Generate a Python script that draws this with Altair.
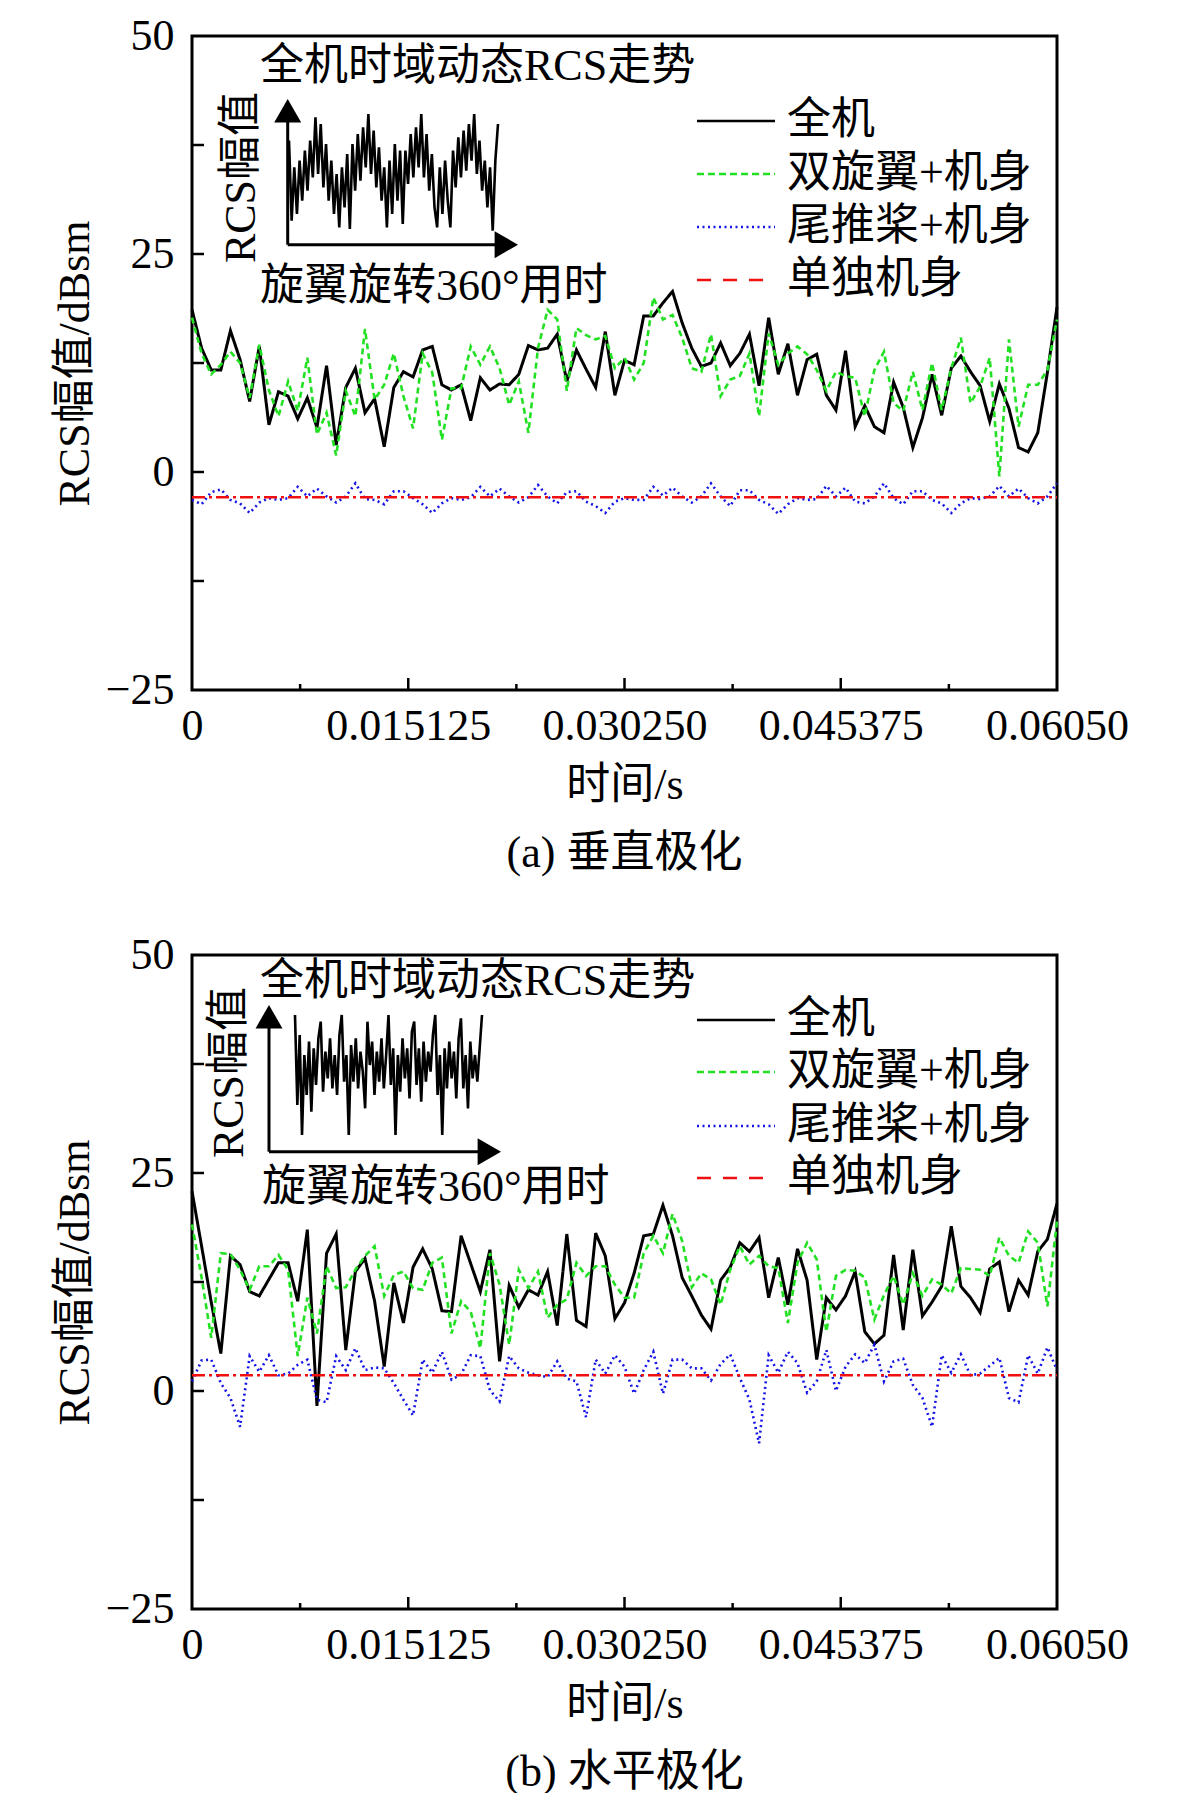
import altair as alt
import pandas as pd

# ---------------- data ----------------
SERIES = ["全机", "双旋翼+机身", "尾推桨+机身", "单独机身"]
T_END = 0.0605
N_PTS = 91
X_TICKS = [0, 0.015125, 0.03025, 0.045375, 0.0605]
X_TICK_LABELS = ["0", "0.015125", "0.030250", "0.045375", "0.06050"]
X_MINOR = [0.0075625, 0.0226875, 0.0378125, 0.0529375]
Y_TICKS = [-25, 0, 25, 50]
Y_MINOR = [-12.5, 12.5, 37.5]

# (a) vertical polarisation
full_v = [18.6, 14.2, 11.7, 11.7, 16.2, 12.9, 8.1, 14.4, 5.4, 9.2,
          8.7, 6.1, 8.5, 5.1, 12.2, 3.1, 9.7, 11.9, 6.8, 8.4,
          2.9, 9.7, 11.5, 10.9, 14.0, 14.4, 10.0, 9.4, 10.0, 5.9,
          10.8, 9.4, 10.1, 10.0, 11.2, 14.5, 14.0, 14.2, 15.8, 10.4,
          14.0, 11.8, 9.7, 16.1, 8.8, 12.8,
          12.3, 17.9, 17.9, 19.4, 20.7, 17.1, 14.2, 12.1, 12.5, 14.8,
          12.2, 13.6, 15.8, 9.9, 17.7, 11.2, 14.7, 8.8, 12.9, 13.5,
          8.8, 7.1, 13.9, 5.2, 7.6, 5.2, 4.5, 10.3, 7.4, 2.8,
          6.2, 11.2, 6.5, 11.9, 13.3, 11.5, 9.9, 5.8, 10.1, 7.3,
          2.8, 2.3, 4.5, 11.4, 18.9]
rotor_v = [17.7, 13.6, 11.2, 12.3, 13.8, 12.5, 8.5, 14.6, 9.4, 6.4,
           10.4, 7.0, 13.1, 4.3, 6.8, 1.9, 9.3, 6.4, 16.4, 8.3,
           10.0, 13.6, 8.7, 5.0, 13.6, 11.4, 3.7, 9.6, 9.6, 14.4,
           12.3, 14.4, 11.9, 7.7, 10.4, 4.5, 14.2, 18.6, 17.5, 9.3,
           16.5, 15.7, 15.2, 15.6, 11.9, 13.1,
           10.6, 12.5, 20.0, 17.5, 18.0, 15.4, 11.9, 11.5, 15.8, 8.7,
           10.6, 11.0, 13.6, 6.4, 15.9, 12.3, 13.6, 14.4, 13.5, 11.7,
           9.3, 11.5, 11.0, 10.8, 6.4, 11.7, 13.8, 7.9, 7.0, 11.5,
           7.1, 12.5, 7.1, 11.9, 15.4, 7.9, 9.8, 13.1, -0.5, 15.2,
           5.2, 10.0, 10.0, 11.7, 17.5]
prop_v = [-3.2, -3.7, -2.3, -2.0, -3.2, -3.6, -4.7, -3.5, -3.0, -3.2,
          -3.0, -1.7, -2.8, -1.9, -2.8, -3.5, -2.8, -1.3, -3.1, -3.2,
          -3.7, -2.2, -2.2, -3.0, -3.7, -4.7, -3.6, -3.0, -3.2, -2.9,
          -1.7, -2.8, -1.9, -2.8, -3.5, -2.9, -1.5, -2.8, -3.6, -2.3,
          -2.2, -3.4, -3.9, -4.7, -3.4, -3.0,
          -3.2, -3.2, -1.7, -2.7, -1.8, -2.8, -3.5, -2.8, -1.3, -2.8,
          -3.9, -2.1, -2.1, -3.2, -3.7, -4.8, -3.7, -3.0, -3.2, -3.1,
          -1.6, -2.8, -1.8, -3.4, -3.6, -2.8, -1.3, -3.0, -3.7, -2.2,
          -2.2, -3.2, -3.6, -4.7, -3.6, -3.0, -3.1, -2.8, -1.6, -2.8,
          -1.9, -3.0, -3.6, -2.8, -1.3]
body_v = [-2.9] * N_PTS

# (b) horizontal polarisation
full_h = [22.9, 16.6, 10.2, 4.3, 15.5, 14.5, 11.4, 10.9, 12.8, 14.7,
          14.7, 10.3, 18.5, -1.7, 15.8, 18.0, 4.7, 13.7, 15.2, 10.3,
          2.8, 12.4, 7.8, 14.2, 16.3, 14.0, 9.2, 9.1, 17.8, 14.6,
          11.4, 16.2, 3.4, 12.1, 9.6, 11.6, 11.0, 13.7, 7.5, 18.0,
          8.1, 7.4, 18.1, 15.5, 8.3, 10.1,
          13.5, 17.8, 18.0, 21.3, 17.8, 13.0, 10.9, 8.7, 7.1, 12.7,
          14.2, 17.0, 16.0, 17.6, 10.7, 15.3, 9.9, 16.3, 12.7, 3.6,
          10.7, 9.3, 10.9, 13.7, 6.8, 5.4, 6.4, 15.6, 7.0, 16.2,
          8.6, 10.2, 12.0, 18.9, 12.0, 10.7, 9.0, 14.0, 14.8, 9.1,
          12.7, 11.0, 16.0, 17.4, 21.5]
rotor_h = [19.1, 13.0, 6.1, 15.8, 15.7, 13.9, 11.6, 14.3, 14.3, 15.6,
           13.9, 4.0, 10.7, 6.6, 14.3, 11.8, 11.9, 13.9, 15.5, 16.6,
           10.9, 13.3, 13.7, 11.8, 11.6, 14.7, 15.3, 6.6, 10.3, 9.1,
           4.9, 15.8, 12.2, 5.3, 13.9, 11.8, 13.7, 8.4, 9.9, 10.5,
           14.7, 13.2, 14.3, 14.3, 12.2, 10.7,
           10.7, 15.8, 17.8, 15.8, 20.3, 17.2, 11.9, 13.5, 12.8, 9.9,
           13.9, 16.6, 14.5, 15.5, 14.3, 14.1, 7.8, 14.7, 17.0, 15.1,
           6.8, 13.2, 13.9, 13.8, 13.0, 8.2, 11.0, 13.2, 9.9, 13.5,
           10.9, 12.8, 12.2, 11.2, 14.1, 14.0, 13.9, 13.2, 17.6, 15.5,
           14.7, 18.3, 17.0, 9.7, 19.5]
prop_h = [1.1, 3.5, 3.6, 0.9, -0.8, -4.1, 4.0, 2.2, 4.1, 1.8,
          2.0, 3.0, 3.6, -1.0, -1.3, 4.0, 2.4, 4.9, 2.4, 2.7,
          2.6, 0.9, -1.0, -2.8, 3.6, 2.1, 4.5, 1.3, 1.9, 4.1,
          4.0, 0.1, -1.2, 4.0, 2.6, 2.1, 1.8, 1.6, 3.4, 1.4,
          1.1, -3.0, 3.6, 2.0, 4.1, 2.8,
          -0.3, 2.4, 4.5, -0.3, 3.6, 3.6, 2.6, 2.6, 1.2, 3.1,
          4.2, 1.5, -1.0, -6.0, 4.1, 2.1, 4.5, 3.2, -0.2, 1.1,
          4.7, 0.0, 2.8, 4.2, 3.2, 5.3, 1.1, 3.4, 3.7, 0.7,
          -0.8, -4.1, 4.1, 2.1, 4.2, 1.8, 2.0, 2.9, 3.8, -0.8,
          -1.3, 4.1, 2.0, 5.0, 2.4]
body_h = [1.8] * N_PTS

# inset traces (arbitrary amplitude units)
inset_v = [280, 40, 200, 60, 220, 100, 250, 130, 280, 170,
           350, 180, 330, 140, 270, 100, 220, 60, 180, 20,
           200, 80, 240, 15, 270, 130, 300, 160, 320, 200,
           360, 180, 310, 140, 260, 100, 200, 20, 220, 60,
           270, 100, 250, 30, 250, 150, 300, 170, 320, 200,
           360, 170, 300, 130, 240, 80, 20, 200, 60, 220,
           100, 20, 250, 140, 290, 170, 310, 190, 330, 220,
           360, 180, 280, 130, 220, 80, 200, 10, 220, 330]
inset_h = [420, 150, 360, 60, 300, 180, 340, 130, 320, 210,
           350, 400, 190, 310, 230, 350, 200, 300, 180, 360,
           420, 220, 300, 60, 330, 220, 350, 200, 310, 250,
           140, 400, 270, 340, 180, 310, 220, 350, 200, 300,
           420, 210, 320, 60, 300, 190, 350, 230, 320, 170,
           370, 400, 210, 320, 160, 340, 220, 310, 250, 360,
           420, 180, 300, 60, 320, 200, 340, 230, 310, 170,
           350, 410, 200, 300, 140, 340, 230, 300, 220, 320, 420]

INSET_TITLE = "全机时域动态RCS走势"
INSET_YLABEL = "RCS幅值"
INSET_XLABEL = "旋翼旋转360°用时"

# ---------------- styles ----------------
FONT = "'Liberation Serif', 'Noto Sans CJK SC', serif"
FS = 44
PW, PH = 865, 654
COLORS = ["#000000", "#22e022", "#1414e6", "#f01010"]
DASHES = [[1, 0], [6, 4], [2, 3.5], [13, 4, 3, 4]]
LEG_DASHES = [[1, 0], [7, 4], [2, 3.5], [14, 12]]
WIDTHS = [3, 2.6, 2.6, 2.6]

time = [i * T_END / (N_PTS - 1) for i in range(N_PTS)]

label_expr = "[" + ",".join("'%s'" % s for s in X_TICK_LABELS) + "][round(datum.value/0.015125)]"

X_ENC = alt.X("t:Q", scale=alt.Scale(domain=[0, T_END], nice=False, zero=False),
              axis=alt.Axis(values=X_TICKS, labelExpr=label_expr, title="时间/s",
                            labelOverlap=False, labelFlush=False))
Y_ENC = alt.Y("v:Q", scale=alt.Scale(domain=[-25, 50], nice=False, zero=False),
              axis=alt.Axis(values=Y_TICKS, title="RCS幅值/dBsm", labelOverlap=False, labelFlush=False))

ONE = pd.DataFrame({"d": [0]})


def txt(s, x, y, align="left", angle=0):
    m = alt.Chart(ONE).mark_text(text=s, font=FONT, fontSize=FS, align=align,
                                 baseline="middle", color="black",
                                 **({"angle": angle} if angle else {}))
    return m.encode(x=alt.value(x), y=alt.value(y))


def hrule(x1, x2, y, color="black", dash=None, width=3):
    kw = {"strokeDash": dash} if dash else {}
    return alt.Chart(ONE).mark_rule(color=color, strokeWidth=width, **kw).encode(
        x=alt.value(x1), x2=alt.value(x2), y=alt.value(y))


def vrule(x, y1, y2, width=3):
    return alt.Chart(ONE).mark_rule(color="black", strokeWidth=width).encode(
        x=alt.value(x), y=alt.value(y1), y2=alt.value(y2))


def tri(shape, x, y):
    return alt.Chart(ONE).mark_point(shape=shape, filled=True, size=729, color="black",
                                     opacity=1, strokeWidth=0).encode(
        x=alt.value(x), y=alt.value(y))


def build_panel(series_vals, inset_vals, cfg, caption):
    layers = []
    for arr, color, dash, w in zip(series_vals, COLORS, DASHES, WIDTHS):
        df = pd.DataFrame({"t": time, "v": arr})
        layers.append(alt.Chart(df).mark_line(color=color, strokeDash=dash, strokeWidth=w)
                      .encode(x=X_ENC, y=Y_ENC))
    # inward ticks
    layers.append(alt.Chart(pd.DataFrame({"t": X_TICKS[1:-1]})).mark_rule(color="black", strokeWidth=2.5)
                  .encode(x=X_ENC, y=alt.value(PH), y2=alt.value(PH - 12)))
    layers.append(alt.Chart(pd.DataFrame({"t": X_MINOR})).mark_rule(color="black", strokeWidth=2.5)
                  .encode(x=X_ENC, y=alt.value(PH), y2=alt.value(PH - 6)))
    layers.append(alt.Chart(pd.DataFrame({"v": Y_MINOR + [0, 25]})).mark_rule(color="black", strokeWidth=2.5)
                  .encode(y=Y_ENC, x=alt.value(0), x2=alt.value(12)))
    # legend
    for name, color, dash, ry in zip(SERIES, COLORS, LEG_DASHES, cfg["leg_rows"]):
        layers.append(hrule(505, 583, ry, color=color, dash=dash if dash != [1, 0] else None, width=2.6))
        layers.append(txt(name, 595, ry))
    # inset annotations
    ax, ay = cfg["axis_x"], cfg["axis_y"]
    layers.append(vrule(ax, ay, cfg["yarrow_tip"] + 16))
    layers.append(tri("triangle-up", ax, cfg["yarrow_tip"] + 11.7))
    layers.append(hrule(ax, cfg["xarrow_tip"] - 16, ay))
    layers.append(tri("triangle-right", cfg["xarrow_tip"] - 11.7, ay))
    layers.append(txt(INSET_TITLE, 68, cfg["title_y"]))
    layers.append(txt(INSET_YLABEL, cfg["ylab_x"], cfg["ylab_y"], align="center", angle=270))
    layers.append(txt(INSET_XLABEL, cfg["xlab_x"], cfg["xlab_y"]))
    main = alt.layer(*layers)

    idf = pd.DataFrame({"i": list(range(len(inset_vals))), "a": inset_vals})
    inset = alt.Chart(idf).mark_line(color="black", strokeWidth=2.6).encode(
        x=alt.X("i:Q", axis=None,
                scale=alt.Scale(domain=[0, len(inset_vals) - 1], range=cfg["sig_x"], nice=False, zero=False)),
        y=alt.Y("a:Q", axis=None,
                scale=alt.Scale(domain=[0, 600], range=cfg["sig_y"], nice=False, zero=False)))

    return alt.layer(main, inset).resolve_scale(x="independent", y="independent").properties(
        width=PW, height=PH,
        title=alt.TitleParams(caption, orient="bottom", anchor="middle", frame="group",
                              font=FONT, fontSize=FS, fontWeight="normal", color="black", offset=25))


cfg_a = dict(leg_rows=[85, 138, 191, 244], axis_x=95.7, axis_y=208.7, yarrow_tip=63, xarrow_tip=326,
             title_y=31, ylab_x=50, ylab_y=141.5, xlab_x=68, xlab_y=251,
             sig_x=[97, 306], sig_y=[198, -2])
cfg_b = dict(leg_rows=[65, 117, 171, 223], axis_x=77, axis_y=196.7, yarrow_tip=50, xarrow_tip=309,
             title_y=26.7, ylab_x=38, ylab_y=117.5, xlab_x=70, xlab_y=233,
             sig_x=[103, 290], sig_y=[200, 0])

top = build_panel([full_v, rotor_v, prop_v, body_v], inset_v, cfg_a, "(a) 垂直极化")
bottom = build_panel([full_h, rotor_h, prop_h, body_h], inset_h, cfg_b, "(b) 水平极化")

chart = alt.vconcat(top, bottom, spacing=53).properties(
    padding={"left": 43, "top": 4, "right": 10, "bottom": 0},
    background="white",
).configure_view(stroke="black", strokeWidth=3).configure_axis(
    labelFont=FONT, labelFontSize=FS, labelColor="black",
    titleFont=FONT, titleFontSize=FS, titleFontWeight="normal", titleColor="black",
    ticks=False, domain=False, grid=False,
).configure_axisX(labelPadding=14, titlePadding=15).configure_axisY(labelPadding=18, titlePadding=8)

chart.save("out.html", embed_options={"renderer": "svg", "actions": False})
